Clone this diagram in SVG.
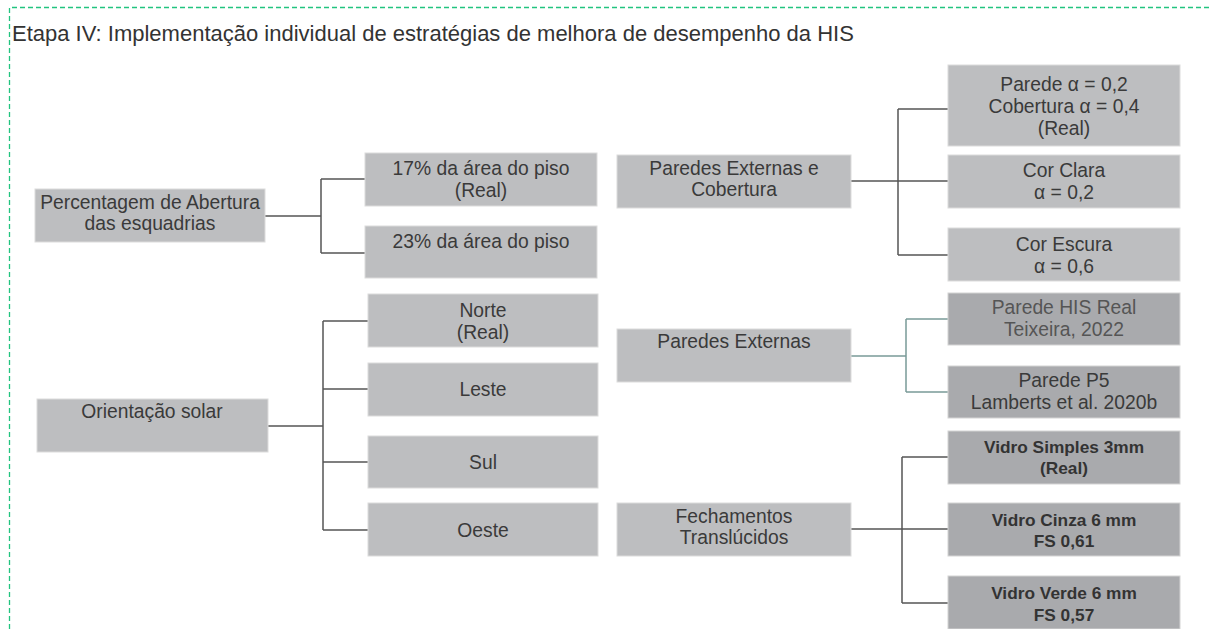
<svg xmlns="http://www.w3.org/2000/svg" width="1209" height="629" viewBox="0 0 1209 629">
<style>
.bx{fill:#bdbec0;stroke:#dcdcdc;stroke-width:1}
.dk{fill:#a9aaad;stroke:#d4d4d4;stroke-width:1}
.t{font-family:"Liberation Sans",Arial,sans-serif;font-size:19.3px;fill:#3a3a3a;text-anchor:middle}
.tl{fill:#555}
.b{font-weight:bold;font-size:17.3px;fill:#333}
.c{fill:none;stroke:#555;stroke-width:1.5}
.cg{fill:none;stroke:#7a9a98;stroke-width:1.5}
</style>
<rect width="1209" height="629" fill="#fff"/>
<path d="M9.5 629 V7.5 H1209" fill="none" stroke="#22c47f" stroke-width="1.3" stroke-dasharray="5,3"/>
<text x="12" y="41" font-family="Liberation Sans,Arial,sans-serif" font-size="22" fill="#333">Etapa IV: Implementação individual de estratégias de melhora de desempenho da HIS</text>

<g id="connectors">
<path class="c" d="M265 216 H321 M321 179 V253 M321 179 H365 M321 253 H365"/>
<path class="c" d="M268 426 H323 M323 321 V530 M323 321 H368 M323 389 H368 M323 462 H368 M323 530 H368"/>
<path class="c" d="M851 181 H948 M898 109 V255 M898 109 H948 M898 255 H948"/>
<path class="cg" d="M851 356 H906 M906 319 V392 M906 319 H948 M906 392 H948"/>
<path class="c" d="M851 529 H948 M902 457 V603 M902 457 H948 M902 603 H948"/>
</g>

<g id="n-percentagem"><rect class="bx" x="35" y="189" width="230" height="53"/><text class="t" x="150" y="209">Percentagem de Abertura</text><text class="t" x="150" y="230">das esquadrias</text></g>
<g id="n-17"><rect class="bx" x="365" y="153" width="232" height="53"/><text class="t" x="481" y="175">17% da área do piso</text><text class="t" x="481" y="197">(Real)</text></g>
<g id="n-23"><rect class="bx" x="365" y="226" width="232" height="52"/><text class="t" x="481" y="248">23% da área do piso</text></g>

<g id="n-orientacao"><rect class="bx" x="37" y="399" width="231" height="53"/><text class="t" x="152" y="418">Orientação solar</text></g>
<g id="n-norte"><rect class="bx" x="368" y="294" width="230" height="53"/><text class="t" x="483" y="317">Norte</text><text class="t" x="483" y="339">(Real)</text></g>
<g id="n-leste"><rect class="bx" x="368" y="363" width="230" height="53"/><text class="t" x="483" y="396">Leste</text></g>
<g id="n-sul"><rect class="bx" x="368" y="436" width="230" height="52"/><text class="t" x="483" y="469">Sul</text></g>
<g id="n-oeste"><rect class="bx" x="368" y="503" width="230" height="53"/><text class="t" x="483" y="537">Oeste</text></g>

<g id="n-paredes-cob"><rect class="bx" x="617" y="155" width="234" height="53"/><text class="t" x="734" y="175">Paredes Externas e</text><text class="t" x="734" y="196">Cobertura</text></g>
<g id="n-parede-real"><rect class="bx" x="948" y="65" width="232" height="81"/><text class="t" x="1064" y="91">Parede α = 0,2</text><text class="t" x="1064" y="113">Cobertura α = 0,4</text><text class="t" x="1064" y="135">(Real)</text></g>
<g id="n-clara"><rect class="bx" x="948" y="155" width="232" height="53"/><text class="t" x="1064" y="177">Cor Clara</text><text class="t" x="1064" y="199">α = 0,2</text></g>
<g id="n-escura"><rect class="bx" x="948" y="228" width="232" height="53"/><text class="t" x="1064" y="251">Cor Escura</text><text class="t" x="1064" y="273">α = 0,6</text></g>

<g id="n-paredes"><rect class="bx" x="617" y="329" width="234" height="53"/><text class="t" x="734" y="348">Paredes Externas</text></g>
<g id="n-his"><rect class="dk" x="948" y="293" width="232" height="52"/><text class="t tl" x="1064" y="314">Parede HIS Real</text><text class="t tl" x="1064" y="336">Teixeira, 2022</text></g>
<g id="n-p5"><rect class="dk" x="948" y="366" width="232" height="52"/><text class="t" x="1064" y="387">Parede P5</text><text class="t" x="1064" y="409">Lamberts et al. 2020b</text></g>

<g id="n-fech"><rect class="bx" x="617" y="503" width="234" height="53"/><text class="t" x="734" y="523">Fechamentos</text><text class="t" x="734" y="544">Translúcidos</text></g>
<g id="n-simples"><rect class="dk" x="948" y="431" width="232" height="53"/><text class="t b" x="1064" y="453">Vidro Simples 3mm</text><text class="t b" x="1064" y="474">(Real)</text></g>
<g id="n-cinza"><rect class="dk" x="948" y="503" width="232" height="53"/><text class="t b" x="1064" y="526">Vidro Cinza 6 mm</text><text class="t b" x="1064" y="547">FS 0,61</text></g>
<g id="n-verde"><rect class="dk" x="948" y="576" width="232" height="53"/><text class="t b" x="1064" y="599">Vidro Verde 6 mm</text><text class="t b" x="1064" y="621">FS 0,57</text></g>
</svg>
